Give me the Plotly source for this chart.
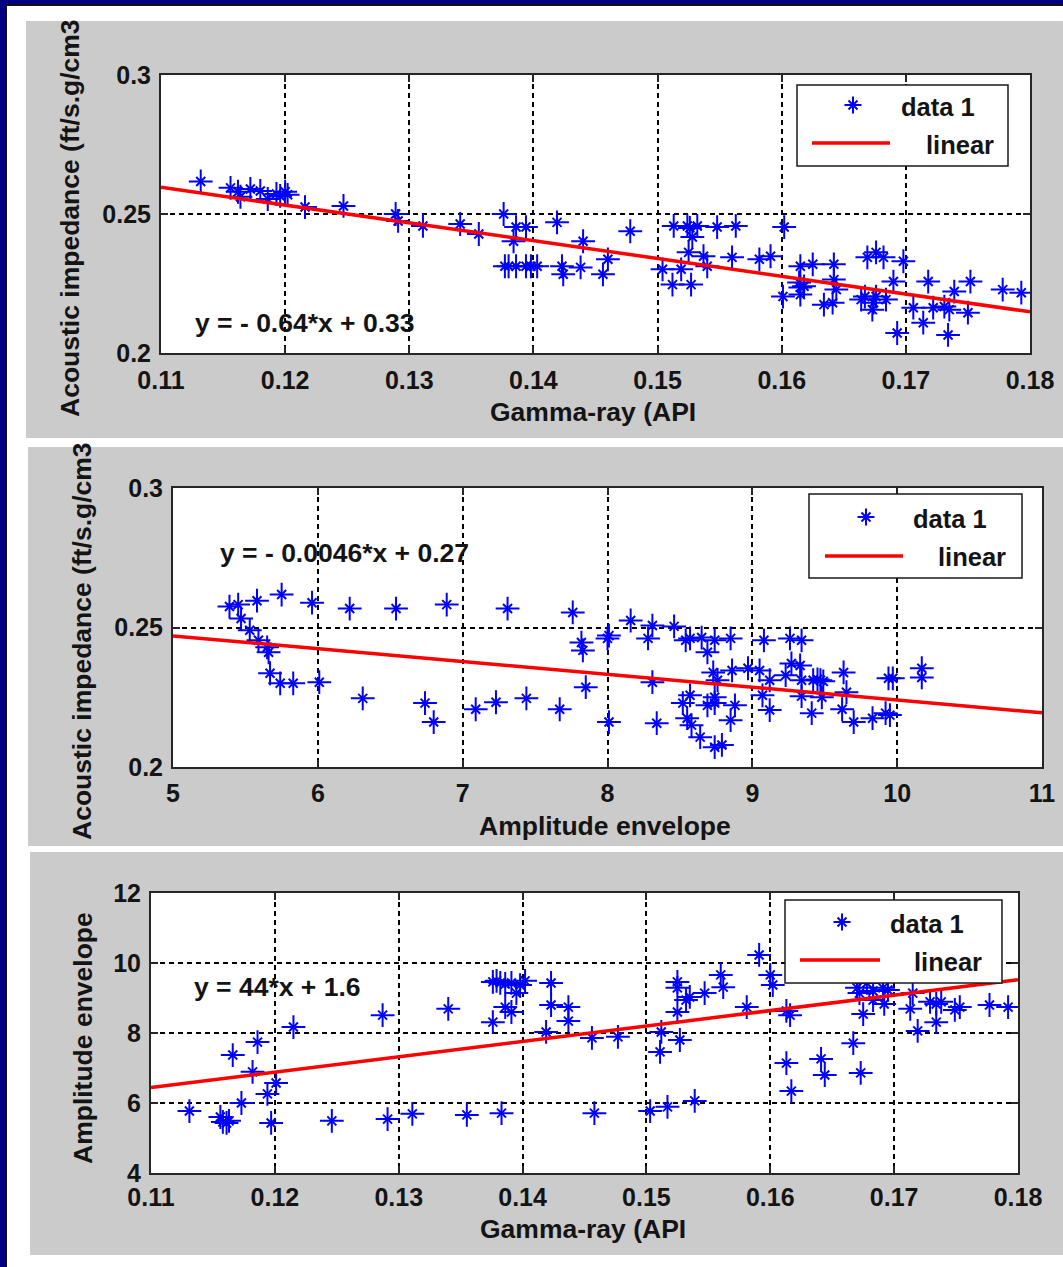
import plotly.graph_objects as go

W, H = 1063, 1267

# ---- Panel 1: acoustic impedance vs gamma-ray ----
gr1 = [0.1132, 0.1156, 0.1162, 0.1164, 0.1172, 0.1180, 0.1186, 0.1193, 0.1200, 0.1202,
       0.1196, 0.1216, 0.1247, 0.1289, 0.1291, 0.1311, 0.1341, 0.1356, 0.1376, 0.1386,
       0.1394, 0.1384, 0.1377, 0.1380, 0.1386, 0.1394, 0.1398, 0.1403, 0.1419, 0.1423,
       0.1424, 0.1440, 0.1438, 0.1456, 0.1460, 0.1478, 0.1513, 0.1524, 0.1526, 0.1532,
       0.1548, 0.1563, 0.1528, 0.1525, 0.1537, 0.1540, 0.1504, 0.1519, 0.1512, 0.1527,
       0.1560, 0.1582, 0.1591, 0.1602, 0.1615, 0.1625, 0.1642, 0.1614, 0.1615, 0.1618,
       0.1601, 0.1615, 0.1642, 0.1644, 0.1634, 0.1641, 0.1669, 0.1676, 0.1682, 0.1698,
       0.1664, 0.1667, 0.1674, 0.1676, 0.1673, 0.1684, 0.1690, 0.1693, 0.1706, 0.1714,
       0.1718, 0.1722, 0.1731, 0.1735, 0.1734, 0.1739, 0.1750, 0.1752, 0.1778, 0.1793]
ai1 = [0.2617, 0.2594, 0.2580, 0.2562, 0.2590, 0.2583, 0.2554, 0.2572, 0.2580, 0.2569,
       0.2565, 0.2525, 0.2529, 0.2500, 0.2475, 0.2457, 0.2464, 0.2428, 0.2500, 0.2453,
       0.2453, 0.2402, 0.2312, 0.2312, 0.2312, 0.2312, 0.2312, 0.2312, 0.2470, 0.2312,
       0.2283, 0.2402, 0.2308, 0.2283, 0.2337, 0.2438, 0.2457, 0.2457, 0.2450, 0.2457,
       0.2453, 0.2457, 0.2417, 0.2362, 0.2348, 0.2312, 0.2301, 0.2301, 0.2246, 0.2246,
       0.2344, 0.2337, 0.2348, 0.2453, 0.2312, 0.2319, 0.2319, 0.2254, 0.2236, 0.2240,
       0.2203, 0.2210, 0.2264, 0.2228, 0.2174, 0.2181, 0.2344, 0.2362, 0.2344, 0.2330,
       0.2192, 0.2203, 0.2181, 0.2203, 0.2156, 0.2192, 0.2257, 0.2072, 0.2163, 0.2109,
       0.2257, 0.2163, 0.2167, 0.2156, 0.2065, 0.2221, 0.2145, 0.2257, 0.2228, 0.2217]
fit1 = (-0.64, 0.33)
fit1_x = [0.11, 0.18]

# ---- Panel 2: acoustic impedance vs amplitude envelope ----
amp2 = [5.39, 5.45, 5.58, 5.75, 5.96, 6.22, 6.54, 6.89, 7.31, 7.76,
        5.47, 5.53, 5.59, 5.65, 5.66, 5.67, 5.74, 5.83, 6.01, 6.31,
        6.74, 6.80, 7.09, 7.23, 7.44, 7.67, 7.82, 7.83, 7.85, 8.01,
        8.00, 8.01, 8.16, 8.31, 8.28, 8.46, 8.54, 8.57, 8.65, 8.74,
        8.85, 8.69, 9.08, 9.26, 9.34, 8.31, 8.34, 8.52, 8.57, 8.55,
        8.58, 8.64, 8.74, 8.79, 8.69, 8.74, 8.74, 8.73, 8.76, 8.85,
        8.88, 8.86, 8.97, 9.05, 9.12, 9.07, 9.12, 9.23, 9.27, 9.33,
        9.34, 9.34, 9.42, 9.45, 9.47, 9.49, 9.48, 9.41, 9.63, 9.65,
        9.62, 9.70, 9.83, 9.92, 9.95, 9.94, 9.97, 10.17, 10.17]
ai2 = [0.2575, 0.2582, 0.2596, 0.2618, 0.2589, 0.2568, 0.2568, 0.2582, 0.2568, 0.2554,
       0.2532, 0.2490, 0.2454, 0.2429, 0.2411, 0.2336, 0.2300, 0.2300, 0.2304, 0.2246,
       0.2229, 0.2161, 0.2207, 0.2232, 0.2246, 0.2207, 0.2446, 0.2418, 0.2286, 0.2471,
       0.2461, 0.2161, 0.2525, 0.2507, 0.2461, 0.2504, 0.2454, 0.2461, 0.2464, 0.2454,
       0.2461, 0.2411, 0.2454, 0.2461, 0.2454, 0.2304, 0.2157, 0.2229, 0.2257, 0.2175,
       0.2150, 0.2107, 0.2071, 0.2079, 0.2221, 0.2250, 0.2229, 0.2339, 0.2311, 0.2168,
       0.2221, 0.2346, 0.2354, 0.2346, 0.2311, 0.2257, 0.2204, 0.2329, 0.2371, 0.2364,
       0.2311, 0.2254, 0.2311, 0.2314, 0.2311, 0.2307, 0.2250, 0.2193, 0.2339, 0.2268,
       0.2207, 0.2161, 0.2175, 0.2193, 0.2186, 0.2318, 0.2318, 0.2354, 0.2321]
fit2 = (-0.0046, 0.27)
fit2_x = [5, 11]

# ---- Panel 3: amplitude envelope vs gamma-ray ----
gr3 = [0.1131, 0.1156, 0.1158, 0.1161, 0.1163, 0.1166, 0.1173, 0.1182, 0.1186, 0.1194,
       0.1201, 0.1197, 0.1215, 0.1246, 0.1287, 0.1291, 0.1311, 0.1340, 0.1355, 0.1376,
       0.1376, 0.1379, 0.1382, 0.1386, 0.1391, 0.1402, 0.1386, 0.1391, 0.1395, 0.1398,
       0.1383, 0.1419, 0.1423, 0.1423, 0.1437, 0.1437, 0.1456, 0.1458, 0.1477, 0.1503,
       0.1517, 0.1539, 0.1511, 0.1512, 0.1527, 0.1525, 0.1525, 0.1525, 0.1532, 0.1535,
       0.1547, 0.1560, 0.1562, 0.1581, 0.1591, 0.1600, 0.1602, 0.1613, 0.1616, 0.1613,
       0.1617, 0.1641, 0.1644, 0.1667, 0.1673, 0.1675, 0.1672, 0.1670, 0.1678, 0.1683,
       0.1691, 0.1695, 0.1692, 0.1683, 0.1715, 0.1713, 0.1719, 0.1729, 0.1734, 0.1738,
       0.1734, 0.1749, 0.1753, 0.1777, 0.1792]
amp3 = [5.77, 5.60, 5.46, 5.43, 5.49, 7.37, 6.00, 6.89, 7.74, 6.26,
        6.57, 5.43, 8.17, 5.49, 8.51, 5.54, 5.69, 8.69, 5.66, 8.31,
        9.46, 9.49, 9.43, 9.40, 9.43, 9.49, 8.74, 8.60, 9.14, 9.37,
        5.71, 8.03, 9.43, 8.80, 8.74, 8.34, 7.86, 5.71, 7.89, 5.77,
        5.89, 6.06, 7.46, 8.03, 7.80, 8.60, 9.46, 9.29, 8.94, 9.03,
        9.14, 9.66, 9.31, 8.74, 10.23, 9.66, 9.37, 8.63, 8.51, 7.14,
        6.34, 7.26, 6.80, 7.71, 6.86, 8.54, 9.14, 9.29, 9.43, 9.20,
        9.29, 9.23, 8.83, 8.94, 9.14, 8.69, 8.06, 8.89, 8.83, 8.89,
        8.31, 8.66, 8.74, 8.80, 8.74]
fit3 = (44, 1.6)
fit3_x = [0.11, 0.18]

# ---- tick labels ----
gr_ticks = [0.11, 0.12, 0.13, 0.14, 0.15, 0.16, 0.17, 0.18]
gr_ticktext = ["0.11", "0.12", "0.13", "0.14", "0.15", "0.16", "0.17", "0.18"]
ai_ticks = [0.2, 0.25, 0.3]
ai_ticktext = ["0.2", "0.25", "0.3"]
amp_xticks = [5, 6, 7, 8, 9, 10, 11]
amp_yticks = [4, 6, 8, 10, 12]

FONT = "Liberation Sans"
TXT = "#141414"
FS = 25        # tick labels
FS_T = 26.5    # titles, equations, legend text
BLUE = "#0000ff"
RED = "#ff0000"


def fx(px):
    return px / W


def fy(py):
    return 1 - py / H


panels = [
    # plot box in pixels: left, top, right, bottom; x tick label standoff
    dict(box=(161, 75, 1030, 353), x=gr1, y=ai1, fit=fit1, fx_=fit1_x, xso=4,
         xr=[0.11, 0.18], yr=[0.2, 0.3], xt=gr_ticks, xtt=gr_ticktext, yt=ai_ticks, ytt=ai_ticktext),
    dict(box=(173, 488, 1042, 767), x=amp2, y=ai2, fit=fit2, fx_=fit2_x, xso=3,
         xr=[5, 11], yr=[0.2, 0.3], xt=amp_xticks, xtt=[str(v) for v in amp_xticks], yt=ai_ticks, ytt=ai_ticktext),
    dict(box=(151, 893, 1018, 1173), x=gr3, y=amp3, fit=fit3, fx_=fit3_x, xso=1,
         xr=[0.11, 0.18], yr=[4, 12], xt=gr_ticks, xtt=gr_ticktext, yt=amp_yticks, ytt=[str(v) for v in amp_yticks]),
]

fig = go.Figure()
shapes = []
annotations = []

# page frame and grey figure panels
shapes.append(dict(type="rect", xref="paper", yref="paper", x0=0, x1=1, y0=0, y1=1,
                   fillcolor="#000080", line=dict(width=0), layer="below"))
shapes.append(dict(type="rect", xref="paper", yref="paper", x0=fx(5), x1=1.01, y0=-0.01, y1=fy(4),
                   fillcolor="#111111", line=dict(width=0), layer="below"))
shapes.append(dict(type="rect", xref="paper", yref="paper", x0=fx(7), x1=1.01, y0=-0.01, y1=fy(6),
                   fillcolor="white", line=dict(width=0), layer="below"))
for (l, t, r, b) in [(26, 21, 1063, 438), (28, 447, 1063, 846), (30, 852, 1063, 1255)]:
    shapes.append(dict(type="rect", xref="paper", yref="paper", x0=fx(l), x1=fx(r) + 0.01,
                       y0=fy(b), y1=fy(t), fillcolor="#cbcbcb", line=dict(width=0), layer="below"))

axis_common = dict(showline=True, linecolor="#262626", linewidth=2, mirror="allticks",
                   ticks="inside", ticklen=7, tickwidth=1.5, tickcolor="#262626",
                   showgrid=True, gridcolor="#000000", gridwidth=1.5, griddash="5px,4px",
                   zeroline=False, tickmode="array", automargin=False,
                   tickfont=dict(family=FONT, size=FS, color=TXT, weight="bold"))

for i, p in enumerate(panels, start=1):
    l, t, r, b = p["box"]
    sfx = "" if i == 1 else str(i)
    shapes.append(dict(type="rect", xref="paper", yref="paper", x0=fx(l), x1=fx(r),
                       y0=fy(b), y1=fy(t), fillcolor="white", line=dict(width=0), layer="below"))
    fig.update_layout(**{
        f"xaxis{sfx}": dict(domain=[fx(l), fx(r)], range=p["xr"], anchor=f"y{sfx}",
                            tickvals=p["xt"], ticktext=p["xtt"], ticklabelstandoff=p["xso"], **axis_common),
        f"yaxis{sfx}": dict(domain=[fy(b), fy(t)], range=p["yr"], anchor=f"x{sfx}",
                            tickvals=p["yt"], ticktext=p["ytt"], ticklabelstandoff=3, **axis_common),
    })
    xa, ya = f"x{sfx}", f"y{sfx}"
    # asterisk markers: long upright cross plus a short diagonal cross
    fig.add_trace(go.Scatter(x=p["x"], y=p["y"], mode="markers", xaxis=xa, yaxis=ya,
                             marker=dict(symbol="cross-thin-open", size=17, color=BLUE,
                                         line=dict(color=BLUE, width=2)),
                             showlegend=False, hoverinfo="skip"))
    fig.add_trace(go.Scatter(x=p["x"], y=p["y"], mode="markers", xaxis=xa, yaxis=ya,
                             marker=dict(symbol="x-thin-open", size=9, color=BLUE,
                                         line=dict(color=BLUE, width=2)),
                             showlegend=False, hoverinfo="skip"))
    m, c = p["fit"]
    fig.add_trace(go.Scatter(x=p["fx_"], y=[m * v + c for v in p["fx_"]], mode="lines",
                             xaxis=xa, yaxis=ya, line=dict(color=RED, width=3.5),
                             showlegend=False, hoverinfo="skip"))


def text(s, x, y, xanchor="center", angle=0, size=FS_T):
    annotations.append(dict(text=s, x=fx(x), y=fy(y), xref="paper", yref="paper",
                            xanchor=xanchor, yanchor="middle", showarrow=False, textangle=angle,
                            font=dict(family=FONT, size=size, color=TXT, weight="bold")))


# axis titles
text("Gamma-ray (API", 593, 412)
text("Acoustic impedance (ft/s.g/cm3", 70, 218, angle=-90)
text("Amplitude envelope", 605, 826)
text("Acoustic impedance (ft/s.g/cm3", 82, 641, angle=-90)
text("Gamma-ray (API", 583, 1229)
text("Amplitude envelope", 83, 1038, angle=-90)

# fitted equations
text("y = - 0.64*x + 0.33", 193, 323, xanchor="left")
text("y = - 0.0046*x + 0.27", 218, 553, xanchor="left")
text("y = 44*x + 1.6", 192, 987, xanchor="left")


def star_path(cx, cy, a=8.5, d=4.5):
    segs = [(cx - a, cy, cx + a, cy), (cx, cy - a, cx, cy + a),
            (cx - d, cy - d, cx + d, cy + d), (cx - d, cy + d, cx + d, cy - d)]
    return " ".join(f"M{fx(x0):.5f},{fy(y0):.5f} L{fx(x1):.5f},{fy(y1):.5f}" for x0, y0, x1, y1 in segs)


# legends: box (l, t, r, b), marker centre, line span, text rows
legends = [
    dict(box=(797, 85, 1008, 166), mk=(853, 105), ln=(812, 890, 143), t1=(899, 107), t2=(924, 145)),
    dict(box=(809, 494, 1022, 578), mk=(866, 517), ln=(825, 903, 556), t1=(911, 519), t2=(936, 557)),
    dict(box=(785, 900, 1002, 983), mk=(842, 922), ln=(800, 880, 960), t1=(888, 924), t2=(912, 962)),
]
for lg in legends:
    l, t, r, b = lg["box"]
    shapes.append(dict(type="rect", xref="paper", yref="paper", x0=fx(l), x1=fx(r), y0=fy(b), y1=fy(t),
                       fillcolor="white", line=dict(color="#1a1a1a", width=1.5), layer="above"))
    shapes.append(dict(type="path", xref="paper", yref="paper", path=star_path(*lg["mk"]),
                       line=dict(color=BLUE, width=2), layer="above"))
    x0, x1, yl = lg["ln"]
    shapes.append(dict(type="line", xref="paper", yref="paper", x0=fx(x0), x1=fx(x1), y0=fy(yl), y1=fy(yl),
                       line=dict(color=RED, width=3.5), layer="above"))
    text("data 1", lg["t1"][0], lg["t1"][1], xanchor="left", size=25.5)
    text("linear", lg["t2"][0], lg["t2"][1], xanchor="left", size=25.5)

fig.update_layout(width=W, height=H, margin=dict(l=0, r=0, t=0, b=0, pad=0, autoexpand=False),
                  paper_bgcolor="white", plot_bgcolor="rgba(0,0,0,0)",
                  shapes=shapes, annotations=annotations, showlegend=False)

fig.write_html("out.html")
